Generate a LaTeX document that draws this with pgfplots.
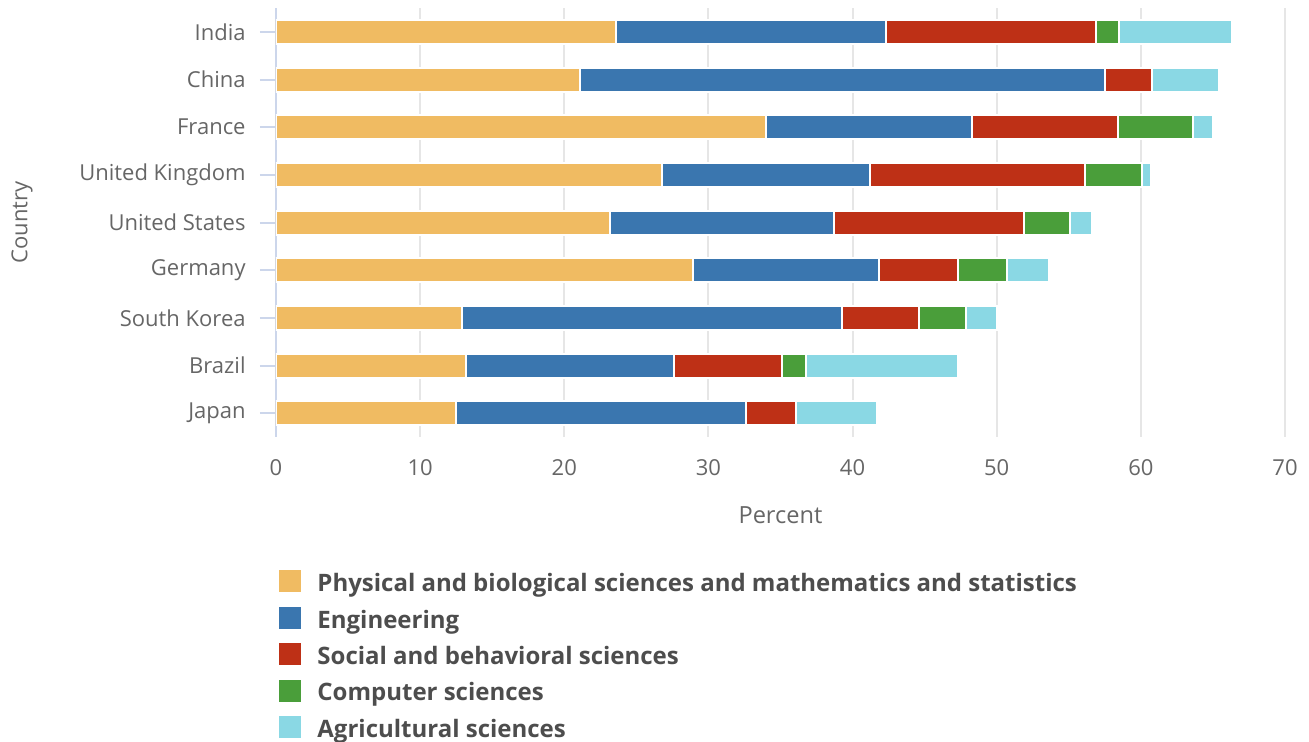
\documentclass[border=0pt]{standalone}
\usepackage{pgfplots}
\pgfplotsset{compat=1.18}
\usepackage{fontspec}
\setmainfont{Open Sans}

\definecolor{cPhys}{HTML}{F0BB62}
\definecolor{cEng}{HTML}{3A76AF}
\definecolor{cSoc}{HTML}{BE3016}
\definecolor{cComp}{HTML}{4A9E3A}
\definecolor{cAgri}{HTML}{8AD8E4}
\definecolor{axisblue}{HTML}{CCD6EB}
\definecolor{gridgray}{HTML}{E6E6E6}
\definecolor{labelgray}{HTML}{666666}
\definecolor{legendgray}{HTML}{4D4D4D}

\begin{document}
\begin{tikzpicture}
\useasboundingbox (-138pt,-152.5pt) rectangle (516.5pt,218.5pt);
\begin{axis}[
  at={(0,0)}, anchor=south west,
  scale only axis, width=504.5pt, height=214.5pt,
  xbar stacked, bar width=12pt,
  xmin=0, xmax=70, ymin=-0.5, ymax=8.5,
  xtick={0,10,...,70},
  ytick={0,...,8},
  yticklabels={Japan,Brazil,South Korea,Germany,United States,United Kingdom,France,China,India},
  xmajorgrids, grid style={draw=gridgray, line width=1pt},
  axis x line*=bottom, axis y line*=left,
  x axis line style={draw=none, -},
  y axis line style={draw=axisblue, line width=1pt, -},
  tick align=outside, major tick length=8pt,
  x tick style={draw=none},
  y tick style={draw=axisblue, line width=1pt},
  /pgf/number format/assume math mode=true,
  tick label style={font=\fontsize{11}{13}\selectfont, text=labelgray},
  yticklabel style={inner sep=0pt, xshift=-7pt},
  xticklabel style={inner sep=0pt, anchor=base, yshift=-11pt},
  xlabel={Percent}, ylabel={Country},
  label style={text=labelgray},
  xlabel style={font=\fontsize{11.8}{14}\selectfont, at={(rel axis cs:0.5,0)}, anchor=base, inner sep=0pt, yshift=-43pt},
  ylabel style={font=\fontsize{11}{13}\selectfont, at={([xshift=-127pt]rel axis cs:0,0.5)}, anchor=center},
  legend style={at={(0.003,-0.3077)}, anchor=north west, draw=none, fill=none,
    font=\fontsize{12}{14}\selectfont\bfseries, text=legendgray,
    row sep=3.6pt, column sep=6pt, inner sep=0pt},
  legend cell align=left,
  legend image code/.code={\fill[#1, draw=none] (0pt,-4.2pt) rectangle (11pt,6.8pt);},
]
\addplot[fill=cPhys, draw=white, line width=1pt] coordinates {(12.5,0) (13.2,1) (12.9,2) (28.9,3) (23.2,4) (26.8,5) (34.0,6) (21.1,7) (23.6,8)};
\addlegendentry{Physical and biological sciences and mathematics and statistics}
\addplot[fill=cEng, draw=white, line width=1pt] coordinates {(20.1,0) (14.4,1) (26.4,2) (12.9,3) (15.5,4) (14.4,5) (14.3,6) (36.4,7) (18.7,8)};
\addlegendentry{Engineering}
\addplot[fill=cSoc, draw=white, line width=1pt] coordinates {(3.5,0) (7.5,1) (5.3,2) (5.5,3) (13.2,4) (14.9,5) (10.1,6) (3.3,7) (14.6,8)};
\addlegendentry{Social and behavioral sciences}
\addplot[fill=cComp, draw=white, line width=1pt] coordinates {(0,0) (1.7,1) (3.3,2) (3.4,3) (3.2,4) (4.0,5) (5.2,6) (0,7) (1.6,8)};
\addlegendentry{Computer sciences}
\addplot[fill=cAgri, draw=white, line width=1pt] coordinates {(5.6,0) (10.5,1) (2.1,2) (2.9,3) (1.5,4) (0.6,5) (1.4,6) (4.6,7) (7.8,8)};
\addlegendentry{Agricultural sciences}
\end{axis}
\end{tikzpicture}
\end{document}
